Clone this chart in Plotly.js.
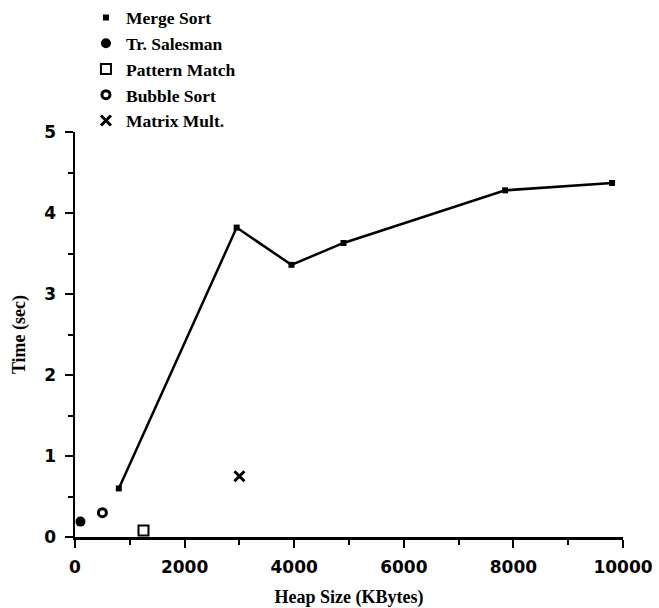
<!DOCTYPE html>
<html>
<head>
<meta charset="utf-8">
<script src="https://cdn.plot.ly/plotly-3.0.1.min.js"></script>
<style>
  html, body { margin: 0; padding: 0; background: #fff; }
  #chart { width: 659px; height: 608px; }
</style>
</head>
<body>
<div id="chart"></div>
<script>
// Data
const mergeHeap = [800, 2950, 3950, 4900, 7850, 9800];
const mergeTime = [0.60, 3.82, 3.36, 3.63, 4.28, 4.37];
const salesHeap = [100];
const salesTime = [0.19];
const patternHeap = [1250];
const patternTime = [0.08];
const bubbleHeap = [500];
const bubbleTime = [0.30];
const matrixHeap = [3000];
const matrixTime = [0.75];

const xTicks = [0, 2000, 4000, 6000, 8000, 10000];
const yTicks = [0, 1, 2, 3, 4, 5];

const serif = "Liberation Serif";
const sans = "DejaVu Sans";

const traces = [
  { x: mergeHeap, y: mergeTime, mode: 'lines+markers', name: 'Merge Sort', showlegend: false,
    line: { color: '#000', width: 2.5 }, marker: { symbol: 'square', size: 6, color: '#000' }, cliponaxis: false },
  { x: [null], y: [null], mode: 'markers', name: 'Merge Sort',
    marker: { symbol: 'square', size: 6, color: '#000' } },
  { x: salesHeap, y: salesTime, mode: 'markers', name: 'Tr. Salesman',
    marker: { symbol: 'circle', size: 10, color: '#000' }, cliponaxis: false },
  { x: patternHeap, y: patternTime, mode: 'markers', name: 'Pattern Match',
    marker: { symbol: 'square-open', size: 10, color: '#000', line: { width: 2, color: '#000' } }, cliponaxis: false },
  { x: bubbleHeap, y: bubbleTime, mode: 'markers', name: 'Bubble Sort',
    marker: { symbol: 'circle-open', size: 8, color: '#000', line: { width: 3, color: '#000' } }, cliponaxis: false },
  { x: matrixHeap, y: matrixTime, mode: 'markers', name: 'Matrix Mult.',
    marker: { symbol: 'x-thin-open', size: 10, color: '#000', line: { width: 3, color: '#000' } }, cliponaxis: false }
];

const layout = {
  width: 659, height: 608,
  margin: { l: 75, r: 36, t: 132, b: 71, autoexpand: false },
  paper_bgcolor: '#fff', plot_bgcolor: '#fff',
  showlegend: true,
  legend: {
    x: 0.02, y: 1.327, xanchor: 'left', yanchor: 'top',
    font: { family: serif, size: 17.5, color: '#000', weight: 'bold' },
    bgcolor: 'rgba(0,0,0,0)', borderwidth: 0, tracegroupgap: 0
  },
  xaxis: {
    range: [0, 10000], tickvals: xTicks, ticktext: xTicks.map(String),
    showgrid: false, zeroline: false, showline: true, linecolor: '#000', linewidth: 2.5,
    ticks: 'outside', ticklen: 8, tickwidth: 2, tickcolor: '#000',
    minor: { dtick: 1000, ticks: 'outside', ticklen: 5, tickwidth: 2, tickcolor: '#000' },
    tickfont: { family: sans, size: 17, color: '#000', weight: 'bold' },
    ticklabelstandoff: 5,
    title: { text: 'Heap Size (KBytes)', font: { family: serif, size: 18, color: '#000', weight: 'bold' }, standoff: 17 },
    fixedrange: true
  },
  yaxis: {
    range: [0, 5], tickvals: yTicks, ticktext: yTicks.map(String),
    showgrid: false, zeroline: false, showline: true, linecolor: '#000', linewidth: 2.5,
    ticks: 'outside', ticklen: 8, tickwidth: 2, tickcolor: '#000',
    minor: { dtick: 0.5, ticks: 'outside', ticklen: 5, tickwidth: 2, tickcolor: '#000' },
    tickfont: { family: sans, size: 17, color: '#000', weight: 'bold' },
    ticklabelstandoff: 5,
    title: { text: 'Time (sec)', font: { family: serif, size: 18, color: '#000', weight: 'bold' }, standoff: 14 },
    fixedrange: true
  }
};

Plotly.newPlot('chart', traces, layout, { displayModeBar: false, staticPlot: true });
</script>
</body>
</html>
